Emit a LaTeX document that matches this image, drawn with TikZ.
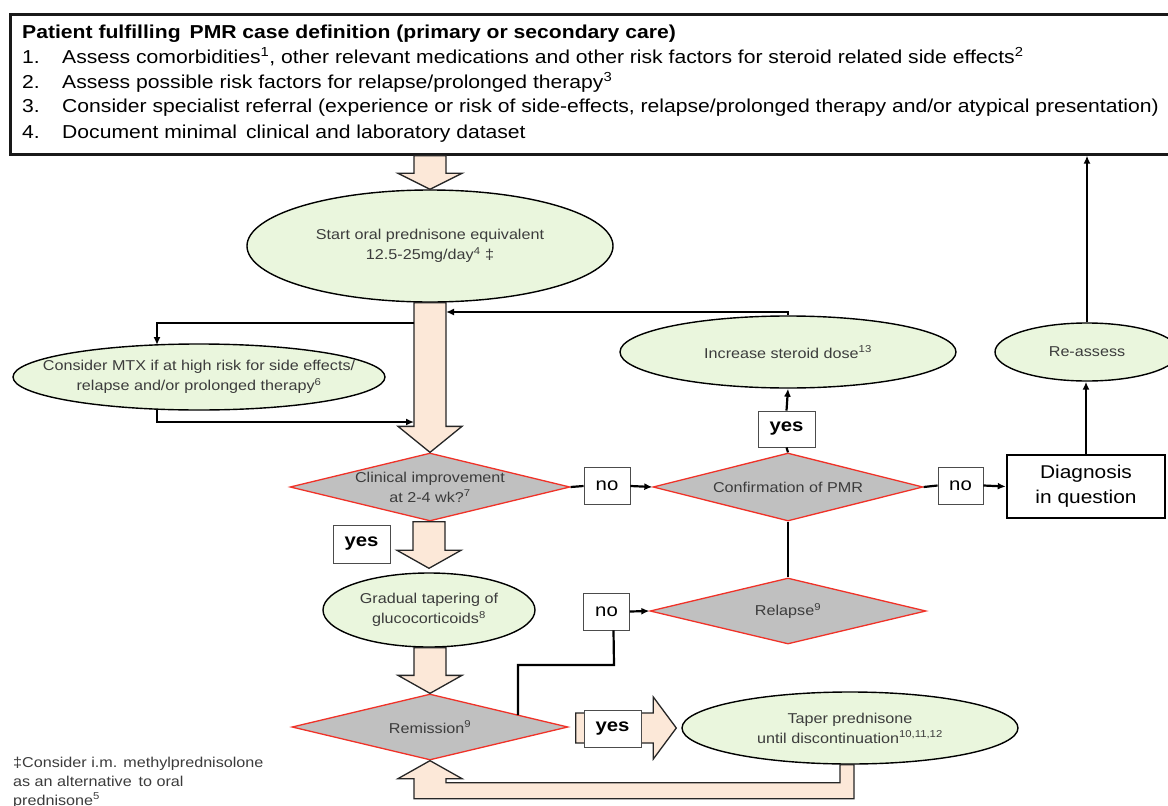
\documentclass[tikz,border=0pt]{standalone}
\usepackage{fontspec}
\setmainfont{Liberation Sans}[FakeStretch=1.13]
\usetikzlibrary{shapes.geometric,calc,arrows.meta}
\definecolor{ellfill}{RGB}{234,246,221}
\definecolor{dfill}{RGB}{192,192,192}
\definecolor{dred}{RGB}{240,50,40}
\definecolor{peach}{RGB}{252,232,216}
\definecolor{etext}{RGB}{60,60,60}
\newcommand\blockdown[3]{\draw[barrow] let \p1=(#1), \p2=(#2) in (\x2-16pt,\y1) -- (\x2+16pt,\y1) -- (\x2+16pt,\y2+#3) -- (\x2+32pt,\y2+#3) -- (\x2,\y2) -- (\x2-32pt,\y2+#3) -- (\x2-16pt,\y2+#3) -- cycle;}
\begin{document}
\begin{tikzpicture}[x=1pt,y=-1pt,
  ell/.style={ellipse, draw=black, line width=1.4pt, fill=ellfill, inner xsep=-70pt, inner ysep=-20pt, text=etext, font=\fontsize{14.3}{20}\selectfont, align=center},
  dia/.style={diamond, draw=dred, line width=1.3pt, fill=dfill, inner sep=0pt, aspect=4, text=etext, font=\fontsize{14.3}{20}\selectfont, align=center},
  lbl/.style={draw=black!70, fill=white, line width=0.9pt, font=\fontsize{18}{20}\selectfont, inner sep=0pt},
  yeslbl/.style={lbl, font=\fontsize{18}{20}\selectfont\bfseries},
  conn/.style={line width=2.2pt, black},
  arr/.style={conn, -{Latex[length=8pt,width=7pt]}},
  barrow/.style={draw=black!85, line width=1.3pt, fill=peach},
  toptxt/.style={anchor=base west, inner sep=0pt, font=\fontsize{18.7}{20}\selectfont}
]
\useasboundingbox (0,0) rectangle (1168,806);
\fill[white] (0,0) rectangle (1168,806);

% top box
\node[draw=black!90, line width=2.6pt, minimum width=1172pt, minimum height=140pt, anchor=north west, inner sep=0pt] (top) at (9,13) {};
\node[toptxt, font=\fontsize{18.7}{20}\selectfont\bfseries] (t0) at (22,38) {Patient fulfilling\, PMR case definition (primary or secondary care)};
\node[toptxt] (n1) at (22,63) {1.};
\node[toptxt] (l1) at (62,63) {Assess comorbidities\textsuperscript{1}, other relevant medications and other risk factors for steroid related side effects\textsuperscript{2}};
\node[toptxt] (n2) at (22,88) {2.};
\node[toptxt] (l2) at (62,88) {Assess possible risk factors for relapse/prolonged therapy\textsuperscript{3}};
\node[toptxt] (n3) at (22,112) {3.};
\node[toptxt] (l3) at (62,112) {Consider specialist referral (experience or risk of side-effects, relapse/prolonged therapy and/or atypical presentation)};
\node[toptxt] (n4) at (22,138) {4.};
\node[toptxt] (l4) at (62,138) {Document minimal\, clinical and laboratory dataset};

% nodes
\node[ell, minimum width=366pt, minimum height=112pt] (start) at (430,246) {Start oral prednisone equivalent\\12.5-25mg/day\textsuperscript{4} ‡};
\node[ell, minimum width=372pt, minimum height=66pt] (mtx) at (199,377) {Consider MTX if at high risk for side effects/\\relapse and/or prolonged therapy\textsuperscript{6}};
\node[dia, minimum width=280pt, minimum height=68pt] (clin) at (430,487) {Clinical improvement\\at 2-4 wk?\textsuperscript{7}};
\node[lbl, minimum width=46pt, minimum height=37pt] (noA) at (607,486) {no};
\node[dia, minimum width=270pt, minimum height=68pt] (conf) at (788,487) {Confirmation of PMR};
\node[yeslbl, minimum width=57pt, minimum height=36pt] (yesB) at (786.5,429) {yes};
\node[ell, minimum width=336pt, minimum height=72pt] (inc) at (788,352) {Increase steroid dose\textsuperscript{13}};
\node[ell, minimum width=184pt, minimum height=58pt] (reas) at (1087,352) {Re-assess};
\node[lbl, minimum width=45pt, minimum height=37pt] (noB) at (960.5,485.5) {no};
\node[draw=black, fill=white, line width=2.6pt, minimum width=158pt, minimum height=63pt, align=center, font=\fontsize{18.5}{25}\selectfont] (diag) at (1086,486.5) {Diagnosis\\in question};
\node[yeslbl, minimum width=57pt, minimum height=38pt] (yesA) at (361.5,544) {yes};
\node[ell, minimum width=212pt, minimum height=74pt] (grad) at (429,610) {Gradual tapering of\\glucocorticoids\textsuperscript{8}};
\node[dia, minimum width=276pt, minimum height=66pt] (rem) at (430,727) {Remission\textsuperscript{9}};
\node[dia, minimum width=276pt, minimum height=66pt] (relapse) at (788,611) {Relapse\textsuperscript{9}};
\node[lbl, minimum width=46pt, minimum height=37pt] (noC) at (606.5,611.5) {no};
\node[ell, minimum width=336pt, minimum height=72pt] (taper) at (850,728) {Taper prednisone\\until discontinuation\textsuperscript{10,11,12}};
\node[anchor=base west, align=left, inner sep=0pt, text=etext, font=\fontsize{14.3}{19}\selectfont] (foot) at (13,805) {‡Consider i.m. methylprednisolone\\as an alternative\, to oral\\prednisone\textsuperscript{5}};

% block arrows
\blockdown{top.south}{start.north}{16pt}
\blockdown{start.south}{clin.north}{26pt}
\blockdown{clin.south}{$(grad.north)+(0,-4)$}{18pt}
\blockdown{grad.south}{rem.north}{18pt}
\draw[barrow] let \p1=(rem.east), \p2=(taper.west) in
  (\x1+7pt,\y2+15pt) -- (\x2-28pt,\y2+15pt) -- (\x2-28pt,\y2+31pt) -- (\x2-5pt,\y2) -- (\x2-28pt,\y2-31pt) -- (\x2-28pt,\y2-15pt) -- (\x1+7pt,\y2-15pt) -- cycle;
\node[yeslbl, minimum width=57pt, minimum height=37pt] (yesC) at (612.5,728.5) {yes};
\draw[barrow] let \p1=(taper.south), \p2=(rem.south) in
  (\x1-10pt,\y1) -- (\x1+4pt,\y1) -- (\x1+4pt,\y1-34pt) -- (\x2-16pt,\y1-34pt) -- (\x2-16pt,\y2-18pt) -- (\x2-32pt,\y2-18pt) -- (\x2,\y2) -- (\x2+32pt,\y2-18pt) -- (\x2+16pt,\y2-18pt) -- (\x2+16pt,\y1-18pt) -- (\x1-10pt,\y1-18pt) -- cycle;

% connectors
\coordinate (shL1) at (414,323);
\coordinate (mIn) at (157,345);
\coordinate (mOut) at (157,410);
\coordinate (shL2) at (414,422);
\coordinate (shR) at (446,312);
\draw[arr] (shL1) -| (mIn);
\draw[arr] (mOut) |- (shL2);
\draw[arr] (inc.north) |- (shR);
\draw[arr] (yesB.north) -- (inc.south);
\draw[conn] (conf.north) -- (yesB.south);
\draw[conn] (clin.east) -- (noA.west);
\draw[arr] (noA.east) -- (conf.west);
\draw[conn] (conf.east) -- (noB.west);
\draw[arr] (noB.east) -- (diag.west);
\draw[arr] (diag.north) -- (diag.north |- reas.south);
\draw[arr] (reas.north) -- (reas.north |- top.south);
\draw[conn] (conf.south) -- (relapse.north);
\draw[arr] (noC.east) -- (relapse.west);
\coordinate (remE) at (518,715);
\coordinate (jog) at (614,665);
\coordinate (noCs) at ($(noC.south)+(7,0)$);
\draw[conn] (remE) |- (jog) -- (noCs);
\end{tikzpicture}
\end{document}
